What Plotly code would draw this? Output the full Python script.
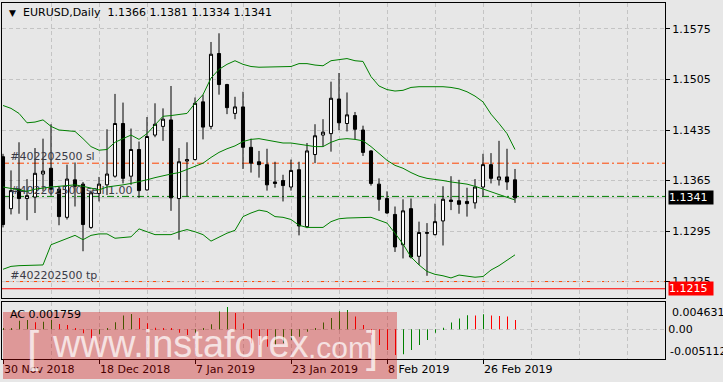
import plotly.graph_objects as go

# ---------------- data ----------------
dates = [
    "2018-11-30",
    "2018-12-03", "2018-12-04", "2018-12-05", "2018-12-06", "2018-12-07",
    "2018-12-10", "2018-12-11", "2018-12-12", "2018-12-13", "2018-12-14",
    "2018-12-17", "2018-12-18", "2018-12-19", "2018-12-20", "2018-12-21",
    "2018-12-24", "2018-12-26", "2018-12-27", "2018-12-28",
    "2018-12-31", "2019-01-02", "2019-01-03", "2019-01-04",
    "2019-01-07", "2019-01-08", "2019-01-09", "2019-01-10", "2019-01-11",
    "2019-01-14", "2019-01-15", "2019-01-16", "2019-01-17", "2019-01-18",
    "2019-01-21", "2019-01-22", "2019-01-23", "2019-01-24", "2019-01-25",
    "2019-01-28", "2019-01-29", "2019-01-30", "2019-01-31", "2019-02-01",
    "2019-02-04", "2019-02-05", "2019-02-06", "2019-02-07", "2019-02-08",
    "2019-02-11", "2019-02-12", "2019-02-13", "2019-02-14", "2019-02-15",
    "2019-02-18", "2019-02-19", "2019-02-20", "2019-02-21", "2019-02-22",
    "2019-02-25", "2019-02-26", "2019-02-27", "2019-02-28", "2019-03-01",
    "2019-03-04",
]

opens = [1.1398, 1.1326, 1.1353, 1.1340, 1.1342, 1.1374, 1.1382, 1.1353, 1.1314, 1.1366,
         1.1360, 1.1300, 1.1347, 1.1359, 1.1371, 1.1444, 1.1371, 1.1408, 1.1352, 1.1428,
         1.1440, 1.1449, 1.1340, 1.1392, 1.1394, 1.1474, 1.1440, 1.1541, 1.1498, 1.1458,
         1.1467, 1.1411, 1.1391, 1.1387, 1.1363, 1.1365, 1.1356, 1.1380, 1.1301, 1.1401,
         1.1428, 1.1430, 1.1478, 1.1444, 1.1455, 1.1435, 1.1406, 1.1360, 1.1340, 1.1318,
         1.1276, 1.1326, 1.1260, 1.1293, 1.1290, 1.1309, 1.1338, 1.1337, 1.1336, 1.1334,
         1.1356, 1.1387, 1.1366, 1.1370, 1.1366]
highs = [1.1402, 1.1379, 1.1418, 1.1367, 1.1410, 1.1423, 1.1443, 1.1356, 1.1387, 1.1390,
         1.1363, 1.1351, 1.1370, 1.1436, 1.1485, 1.1473, 1.1437, 1.1419, 1.1453, 1.1472,
         1.1465, 1.1496, 1.1410, 1.1418, 1.1480, 1.1484, 1.1557, 1.1569, 1.1499, 1.1481,
         1.1488, 1.1423, 1.1406, 1.1409, 1.1391, 1.1373, 1.1394, 1.1391, 1.1417, 1.1443,
         1.1450, 1.1502, 1.1514, 1.1487, 1.1460, 1.1441, 1.1407, 1.1368, 1.1350, 1.1329,
         1.1339, 1.1340, 1.1308, 1.1306, 1.1333, 1.1357, 1.1371, 1.1366, 1.1355, 1.1367,
         1.1402, 1.1403, 1.1420, 1.1409, 1.1381]
lows = [1.1300, 1.1318, 1.1319, 1.1310, 1.1320, 1.1350, 1.1344, 1.1303, 1.1311, 1.1329,
        1.1267, 1.1298, 1.1336, 1.1345, 1.1369, 1.1361, 1.1359, 1.1341, 1.1351, 1.1425,
        1.1420, 1.1323, 1.1283, 1.1343, 1.1393, 1.1422, 1.1436, 1.1484, 1.1457, 1.1450,
        1.1381, 1.1376, 1.1369, 1.1351, 1.1355, 1.1336, 1.1351, 1.1289, 1.1299, 1.1389,
        1.1412, 1.1405, 1.1435, 1.1433, 1.1422, 1.1399, 1.1358, 1.1323, 1.1319, 1.1266,
        1.1257, 1.1257, 1.1248, 1.1233, 1.1289, 1.1275, 1.1324, 1.1319, 1.1315, 1.1326,
        1.1343, 1.1361, 1.1358, 1.1352, 1.1334]
closes = [1.1304, 1.1351, 1.1340, 1.1344, 1.1375, 1.1378, 1.1353, 1.1315, 1.1367, 1.1357,
          1.1304, 1.1348, 1.1360, 1.1374, 1.1444, 1.1368, 1.1408, 1.1351, 1.1426, 1.1443,
          1.1450, 1.1341, 1.1391, 1.1394, 1.1472, 1.1439, 1.1540, 1.1498, 1.1466, 1.1467,
          1.1411, 1.1389, 1.1387, 1.1359, 1.1361, 1.1358, 1.1379, 1.1302, 1.1406, 1.1427,
          1.1432, 1.1479, 1.1445, 1.1456, 1.1436, 1.1404, 1.1361, 1.1339, 1.1320, 1.1273,
          1.1323, 1.1259, 1.1293, 1.1292, 1.1308, 1.1339, 1.1336, 1.1332, 1.1333, 1.1356,
          1.1387, 1.1368, 1.1370, 1.1363, 1.1341]

bb_upper = [1.1469, 1.1465, 1.1458, 1.1445, 1.1446, 1.1449, 1.1440, 1.1435, 1.1434, 1.1433,
            1.1423, 1.1412, 1.1407, 1.1408, 1.1418, 1.1423, 1.1428, 1.1422, 1.1430, 1.1442,
            1.1454, 1.1455, 1.1456, 1.1458, 1.1472, 1.1484, 1.1507, 1.1519, 1.1526, 1.1531,
            1.1526, 1.1523, 1.1522, 1.1522, 1.1522, 1.1522, 1.1523, 1.1527, 1.1527, 1.1525,
            1.1524, 1.1531, 1.1533, 1.1534, 1.1531, 1.1530, 1.1509, 1.1496, 1.1491, 1.1489,
            1.1490, 1.1494, 1.1495, 1.1495, 1.1496, 1.1495, 1.1494, 1.1492, 1.1488, 1.1482,
            1.1474, 1.1457, 1.1444, 1.1430, 1.1408]
bb_middle = [1.1356, 1.1354, 1.1352, 1.1350, 1.1353, 1.1355, 1.1356, 1.1357, 1.1358, 1.1359,
             1.1357, 1.1354, 1.1352, 1.1356, 1.1357, 1.1359, 1.1361, 1.1363, 1.1366, 1.1369,
             1.1372, 1.1374, 1.1376, 1.1380, 1.1384, 1.1389, 1.1397, 1.1404, 1.1409, 1.1413,
             1.1419, 1.1422, 1.1423, 1.1421, 1.1418, 1.1417, 1.1417, 1.1415, 1.1413, 1.1412,
             1.1412, 1.1418, 1.1422, 1.1423, 1.1422, 1.1420, 1.1412, 1.1403, 1.1393, 1.1386,
             1.1382, 1.1376, 1.1371, 1.1368, 1.1367, 1.1365, 1.1363, 1.1362, 1.1360, 1.1357,
             1.1353, 1.1350, 1.1345, 1.1341, 1.1338]
bb_lower = [1.1242, 1.1246, 1.1247, 1.1247, 1.1247, 1.1248, 1.1276, 1.1280, 1.1285, 1.1289,
            1.1283, 1.1289, 1.1291, 1.1291, 1.1285, 1.1286, 1.1287, 1.1298, 1.1294, 1.1290,
            1.1290, 1.1290, 1.1294, 1.1297, 1.1294, 1.1290, 1.1281, 1.1287, 1.1292, 1.1296,
            1.1315, 1.1320, 1.1324, 1.1322, 1.1315, 1.1314, 1.1311, 1.1303, 1.1300, 1.1300,
            1.1300, 1.1308, 1.1312, 1.1313, 1.1313, 1.1314, 1.1314, 1.1310, 1.1306, 1.1292,
            1.1277, 1.1259, 1.1248, 1.1239, 1.1235, 1.1233, 1.1230, 1.1234, 1.1232, 1.1231,
            1.1232, 1.1241, 1.1247, 1.1255, 1.1262]

ac_values = [0.00019, 0.00025, 0.00163, 0.00176, 0.00132, 0.00144, 0.00176, 0.00100, 0.00082, 0.00019,
             -0.00075, -0.00170, -0.00094, 0.00019, 0.00132, 0.00257, 0.00289, 0.00214, 0.00113, 0.00031,
             0.00019, 0.00006, -0.00063, -0.00107, -0.00063, 0.00019, 0.00094, 0.00333, 0.00421, 0.00308,
             0.00107, -0.00264, -0.00295, -0.00327, -0.00295, -0.00264, -0.00201, -0.00138, -0.00044, 0.00019,
             0.00126, 0.00214, 0.00339, 0.00364, 0.00239, 0.00082, -0.00107, -0.00295, -0.00389, -0.00484,
             -0.00471, -0.00389, -0.00295, -0.00201, -0.00063, 0.00031, 0.00126, 0.00201, 0.00264, 0.00257,
             0.00283, 0.00257, 0.00251, 0.00239, 0.001759]

tick_dates = ["2018-11-30", "2018-12-18", "2019-01-07", "2019-01-23", "2019-02-08", "2019-02-26"]
tick_labels = ["30 Nov 2018", "18 Dec 2018", "7 Jan 2019", "23 Jan 2019", "8 Feb 2019", "26 Feb 2019"]
price_ticks = [1.1575, 1.1505, 1.1435, 1.1365, 1.1295, 1.1225]
ac_scale_labels = ["0.004631", "0.00", "-0.005112"]

order_id = "#402202500"
sl_level = 1.1389
open_level = 1.1343
tp_level = 1.1225
alert_level = 1.1215

# ---------------- styling ----------------
BG = "#E7E7E7"
GRID = "#C4C4C4"
FONT = "DejaVu Sans"
W, H = 723, 382
ML, MR, MT, MB = 2, 58, 3, 23

xs = list(range(len(dates)))
tick_pos = [dates.index(d) for d in tick_dates]

fig = go.Figure()

# order labels (drawn under the candles)
for lvl, txt in [(sl_level, order_id + " sl"), (open_level, order_id + " sell 1.00"), (tp_level, order_id + " tp")]:
    fig.add_trace(go.Scatter(x=[0.9], y=[lvl], mode="text", text=[txt], textposition="top right",
                             textfont=dict(family=FONT, size=11, color="#3a3a46"),
                             xaxis="x", yaxis="y", hoverinfo="skip"))

fig.add_trace(go.Candlestick(
    x=xs, open=opens, high=highs, low=lows, close=closes,
    increasing=dict(line=dict(color="black", width=1), fillcolor="white"),
    decreasing=dict(line=dict(color="black", width=1), fillcolor="black"),
    whiskerwidth=0, xaxis="x", yaxis="y", hoverinfo="skip"))

for band in (bb_upper, bb_middle, bb_lower):
    fig.add_trace(go.Scatter(x=xs, y=band, mode="lines", line=dict(color="#008000", width=1),
                             xaxis="x", yaxis="y", hoverinfo="skip"))

ac_colors = ["#008000"] + ["#008000" if ac_values[i] > ac_values[i - 1] else "#FF0000"
                           for i in range(1, len(ac_values))]
fig.add_trace(go.Bar(x=xs, y=ac_values, marker=dict(color=ac_colors, line=dict(width=0)),
                     width=0.125, offset=0, xaxis="x2", yaxis="y2", hoverinfo="skip"))

# ---------------- axes ----------------
plot_h = H - MT - MB
main_bottom_px, ac_top_px = 298, 302
main_dom = [(H - MB - main_bottom_px) / plot_h, 1]
ac_dom = [0, (H - MB - ac_top_px) / plot_h]

xrange = [-0.125, 82.75]
fig.update_layout(
    width=W, height=H, margin=dict(l=ML, r=MR, t=MT, b=MB),
    paper_bgcolor=BG, plot_bgcolor=BG, showlegend=False, boxgap=0.45,
    font=dict(family=FONT, size=11, color="black"),
    xaxis=dict(domain=[0, 1], anchor="y", range=xrange, tickmode="linear", tick0=0, dtick=6,
               showticklabels=False, ticks="", showgrid=True, gridcolor=GRID, griddash="4px,3px",
               showline=True, mirror=True, linecolor="black", linewidth=1, zeroline=False,
               rangeslider=dict(visible=False)),
    yaxis=dict(domain=main_dom, anchor="x", range=[1.12022, 1.16110], side="right",
               tickvals=price_ticks, ticktext=[f"{v:.4f}" for v in price_ticks],
               ticks="outside", ticklen=4, tickcolor="black", showgrid=True, gridcolor=GRID,
               griddash="4px,3px", showline=True, mirror=True, linecolor="black", zeroline=False,
               tickfont=dict(family=FONT, size=11, color="black")),
    xaxis2=dict(domain=[0, 1], anchor="y2", range=xrange, matches="x",
                tickvals=tick_pos, ticktext=tick_labels, ticks="outside", ticklen=4,
                tickcolor="black", ticklabelposition="outside right",
                showgrid=True, gridcolor=GRID, griddash="4px,3px",
                minor=dict(tickmode="linear", tick0=0, dtick=6, showgrid=True, gridcolor=GRID,
                           griddash="4px,3px", ticks=""),
                showline=True, mirror=True, linecolor="black", zeroline=False,
                tickfont=dict(family=FONT, size=11, color="black")),
    yaxis2=dict(domain=ac_dom, anchor="x2", range=[-0.00558, 0.00513], side="right",
                tickvals=[0], ticktext=[ac_scale_labels[1]], ticks="", showgrid=True,
                gridcolor=GRID, griddash="4px,3px", showline=True, mirror=True,
                linecolor="black", zeroline=False,
                tickfont=dict(family=FONT, size=11, color="black")),
)

# ---------------- order / price lines ----------------
dashdot = "7px,3px,2px,3px"
shapes = [
    dict(type="line", xref="paper", yref="y", x0=0, x1=1, y0=closes[-1], y1=closes[-1],
         line=dict(color="#C0C0C0", width=1), layer="below"),
    dict(type="line", xref="paper", yref="y", x0=0, x1=1, y0=sl_level, y1=sl_level,
         line=dict(color="#FF4500", width=1, dash=dashdot), layer="below"),
    dict(type="line", xref="paper", yref="y", x0=0, x1=1, y0=open_level, y1=open_level,
         line=dict(color="#008000", width=1, dash=dashdot), layer="below"),
    dict(type="line", xref="paper", yref="y", x0=0, x1=1, y0=tp_level, y1=tp_level,
         line=dict(color="#FF4500", width=1, dash=dashdot), layer="below"),
    dict(type="line", xref="paper", yref="y", x0=0, x1=1, y0=alert_level, y1=alert_level,
         line=dict(color="#FF0000", width=1), layer="below"),
]


def px_x(px):
    return (px - ML) / (W - ML - MR)


def px_y(px):
    return (H - MB - px) / plot_h


# watermark box
shapes.append(dict(type="rect", xref="paper", yref="paper", x0=px_x(3), x1=px_x(397),
                   y0=px_y(379), y1=px_y(312), fillcolor="rgba(206,0,0,0.34)",
                   line=dict(width=0), layer="above"))
fig.update_layout(shapes=shapes)

ann = []
# title
ann.append(dict(xref="paper", yref="paper", x=px_x(7), y=px_y(13), xanchor="left", yanchor="middle",
                text="\u25BC", showarrow=False, font=dict(family=FONT, size=9, color="black")))
title = "EURUSD,Daily\u00a0\u00a0" + " ".join(f"{v:.4f}" for v in (opens[-1], highs[-1], lows[-1], closes[-1]))
ann.append(dict(xref="paper", yref="paper", x=px_x(21), y=px_y(13), xanchor="left", yanchor="middle",
                text=title, showarrow=False, font=dict(family=FONT, size=11, color="black")))
# price boxes
for lvl, bg in [(closes[-1], "black"), (alert_level, "#FF0000")]:
    ann.append(dict(xref="paper", yref="y", x=1, y=lvl, xanchor="left", yanchor="middle",
                    xshift=3, text=f"{lvl:.4f}", showarrow=False, bgcolor=bg, width=44, height=13,
                    align="left", borderpad=0, font=dict(family=FONT, size=11, color="white")))
# AC labels
ann.append(dict(xref="paper", yref="paper", x=px_x(8), y=px_y(314), xanchor="left", yanchor="middle",
                text=f"AC {ac_values[-1]:.6f}", showarrow=False, font=dict(family=FONT, size=11, color="black")))
ann.append(dict(xref="paper", yref="paper", x=1, xshift=5, y=px_y(312), xanchor="left", yanchor="middle",
                text=ac_scale_labels[0], showarrow=False, font=dict(family=FONT, size=11, color="black")))
ann.append(dict(xref="paper", yref="paper", x=1, xshift=3, y=px_y(351), xanchor="left", yanchor="middle",
                text=ac_scale_labels[2], showarrow=False, font=dict(family=FONT, size=11, color="black")))
# watermark text
wm = "rgba(255,255,255,0.72)"
ann.append(dict(xref="paper", yref="paper", x=px_x(25), y=px_y(346), xanchor="left", yanchor="middle",
                text="[", showarrow=False, font=dict(family="Liberation Sans", size=44, color=wm)))
ann.append(dict(xref="paper", yref="paper", x=px_x(50), y=px_y(344), xanchor="left", yanchor="middle",
                text="www.instaforex", showarrow=False, font=dict(family="Liberation Sans", size=38, color=wm)))
ann.append(dict(xref="paper", yref="paper", x=px_x(306), y=px_y(347), xanchor="left", yanchor="middle",
                text=".com", showarrow=False, font=dict(family="Liberation Sans", size=30, color=wm)))
ann.append(dict(xref="paper", yref="paper", x=px_x(364), y=px_y(346), xanchor="left", yanchor="middle",
                text="]", showarrow=False, font=dict(family="Liberation Sans", size=44, color=wm)))
fig.update_layout(annotations=ann)

fig.write_html("out.html")
